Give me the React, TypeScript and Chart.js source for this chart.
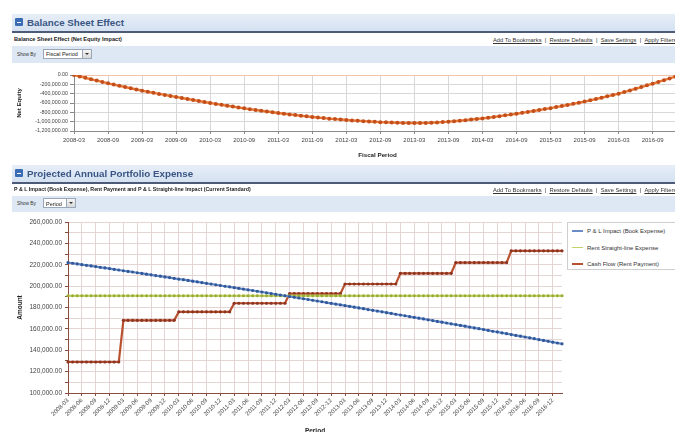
import React, { useEffect, useRef } from "react";
import { Chart, registerables } from "chart.js";

Chart.register(...registerables);

const MONTHS = [
  "2008-03", "2008-04", "2008-05", "2008-06", "2008-07", "2008-08", "2008-09", "2008-10", "2008-11", "2008-12",
  "2009-01", "2009-02", "2009-03", "2009-04", "2009-05", "2009-06", "2009-07", "2009-08", "2009-09", "2009-10", "2009-11", "2009-12",
  "2010-01", "2010-02", "2010-03", "2010-04", "2010-05", "2010-06", "2010-07", "2010-08", "2010-09", "2010-10", "2010-11", "2010-12",
  "2011-01", "2011-02", "2011-03", "2011-04", "2011-05", "2011-06", "2011-07", "2011-08", "2011-09", "2011-10", "2011-11", "2011-12",
  "2012-01", "2012-02", "2012-03", "2012-04", "2012-05", "2012-06", "2012-07", "2012-08", "2012-09", "2012-10", "2012-11", "2012-12",
  "2013-01", "2013-02", "2013-03", "2013-04", "2013-05", "2013-06", "2013-07", "2013-08", "2013-09", "2013-10", "2013-11", "2013-12",
  "2014-01", "2014-02", "2014-03", "2014-04", "2014-05", "2014-06", "2014-07", "2014-08", "2014-09", "2014-10", "2014-11", "2014-12",
  "2015-01", "2015-02", "2015-03", "2015-04", "2015-05", "2015-06", "2015-07", "2015-08", "2015-09", "2015-10", "2015-11", "2015-12",
  "2016-01", "2016-02", "2016-03", "2016-04", "2016-05", "2016-06", "2016-07", "2016-08", "2016-09", "2016-10", "2016-11", "2016-12",
  "2017-01", "2017-02",
];

const NET_EQUITY = [
  0, -31000, -61000, -91000, -120000, -149000, -178000,
  -205000, -232000, -258000, -284000, -310000, -336000,
  -359000, -382000, -405000, -427000, -449000, -470000,
  -492000, -514000, -536000, -557000, -579000, -600000,
  -620000, -639000, -658000, -677000, -696000, -715000,
  -732000, -749000, -766000, -782000, -798000, -815000,
  -830000, -844000, -858000, -872000, -886000, -900000,
  -912000, -924000, -935000, -945000, -955000, -965000,
  -973000, -981000, -989000, -996000, -1003000, -1010000,
  -1015000, -1019000, -1023000, -1026000, -1028000, -1030000,
  -1029000, -1026000, -1022000, -1016000, -1009000, -1000000,
  -990000, -979000, -967000, -955000, -943000, -930000,
  -915000, -899000, -882000, -865000, -848000, -830000,
  -811000, -791000, -771000, -751000, -731000, -710000,
  -688000, -665000, -642000, -618000, -594000, -570000,
  -543000, -515000, -487000, -458000, -429000, -400000,
  -366000, -331000, -295000, -259000, -222000, -185000,
  -148000, -111000, -74000, -37000, 0,
];

const PL_IMPACT = [
  222000, 221400, 220800, 220100, 219500, 218900, 218300, 217600, 217000, 216400,
  215700, 215100, 214400, 213800, 213200, 212500, 211900, 211200, 210600, 209900,
  209300, 208600, 208000, 207300, 206600, 206000, 205300, 204600, 204000, 203300,
  202600, 202000, 201300, 200600, 199900, 199300, 198600, 197900, 197200, 196500,
  195900, 195200, 194500, 193800, 193100, 192400, 191700, 191000, 190300, 189600,
  188900, 188200, 187500, 186800, 186100, 185400, 184600, 183900, 183200, 182500,
  181800, 181100, 180300, 179600, 178900, 178100, 177400, 176700, 176000, 175200,
  174500, 173700, 173000, 172300, 171500, 170800, 170000, 169300, 168500, 167800,
  167000, 166300, 165500, 164700, 164000, 163200, 162500, 161700, 160900, 160200,
  159400, 158600, 157800, 157100, 156300, 155500, 154700, 153900, 153200, 152400,
  151600, 150800, 150000, 149200, 148400, 147600, 146800, 146000,
];

const STRAIGHT_LINE = [
  191000, 191000, 191000, 191000, 191000, 191000, 191000, 191000, 191000, 191000, 191000, 191000,
  191000, 191000, 191000, 191000, 191000, 191000, 191000, 191000, 191000, 191000, 191000, 191000,
  191000, 191000, 191000, 191000, 191000, 191000, 191000, 191000, 191000, 191000, 191000, 191000,
  191000, 191000, 191000, 191000, 191000, 191000, 191000, 191000, 191000, 191000, 191000, 191000,
  191000, 191000, 191000, 191000, 191000, 191000, 191000, 191000, 191000, 191000, 191000, 191000,
  191000, 191000, 191000, 191000, 191000, 191000, 191000, 191000, 191000, 191000, 191000, 191000,
  191000, 191000, 191000, 191000, 191000, 191000, 191000, 191000, 191000, 191000, 191000, 191000,
  191000, 191000, 191000, 191000, 191000, 191000, 191000, 191000, 191000, 191000, 191000, 191000,
  191000, 191000, 191000, 191000, 191000, 191000, 191000, 191000, 191000, 191000, 191000, 191000,
];

const CASH_FLOW = [
  129000, 129000, 129000, 129000, 129000, 129000, 129000, 129000, 129000, 129000, 129000, 129000,
  168000, 168000, 168000, 168000, 168000, 168000, 168000, 168000, 168000, 168000, 168000, 168000,
  176000, 176000, 176000, 176000, 176000, 176000, 176000, 176000, 176000, 176000, 176000, 176000,
  184000, 184000, 184000, 184000, 184000, 184000, 184000, 184000, 184000, 184000, 184000, 184000,
  193000, 193000, 193000, 193000, 193000, 193000, 193000, 193000, 193000, 193000, 193000, 193000,
  202000, 202000, 202000, 202000, 202000, 202000, 202000, 202000, 202000, 202000, 202000, 202000,
  212000, 212000, 212000, 212000, 212000, 212000, 212000, 212000, 212000, 212000, 212000, 212000,
  222000, 222000, 222000, 222000, 222000, 222000, 222000, 222000, 222000, 222000, 222000, 222000,
  233000, 233000, 233000, 233000, 233000, 233000, 233000, 233000, 233000, 233000, 233000, 233000,
];

const SERIES_NAMES = ["P & L Impact (Book Expense)", "Rent Straight-line Expense", "Cash Flow (Rent Payment)"];

const FONT = '"Liberation Sans", Arial, sans-serif';

const fmt = (v: number) =>
  Number(v).toLocaleString("en-US", { minimumFractionDigits: 2, maximumFractionDigits: 2 });

function TopChart() {
  const ref = useRef<HTMLCanvasElement | null>(null);
  useEffect(() => {
    if (!ref.current) return;
    const chart = new Chart(ref.current, {
      type: "line",
      data: {
        labels: MONTHS,
        datasets: [
          {
            data: NET_EQUITY,
            borderColor: "#ec7a34",
            borderWidth: 2.4,
            pointRadius: 2,
            pointBackgroundColor: "#c24f1c",
            pointBorderWidth: 0,
            tension: 0,
          },
        ],
      },
      options: {
        animation: false,
        responsive: false,
        maintainAspectRatio: false,
        devicePixelRatio: 1,
        layout: { padding: { top: 12, right: 39, bottom: 4, left: 0 } },
        plugins: { legend: { display: false }, tooltip: { enabled: false } },
        scales: {
          x: {
            grid: { color: "#d8d8d8", tickColor: "#888", tickLength: 3 },
            border: { color: "#8a8a8a" },
            ticks: {
              autoSkip: false,
              maxRotation: 0,
              minRotation: 0,
              padding: 3,
              color: "#444",
              font: { size: 6, family: FONT },
              callback: (_v: any, i: number) => (i % 6 === 0 ? MONTHS[i] : null),
            },
            title: {
              display: true,
              text: "Fiscal Period",
              color: "#222",
              font: { size: 6.2, weight: "bold", family: FONT },
              padding: { top: 0, bottom: 3 },
            },
            afterFit: (s: any) => {
              s.height = 31;
            },
          },
          y: {
            min: -1200000,
            max: 0,
            ticks: {
              stepSize: 200000,
              autoSkip: false,
              color: "#444",
              padding: 2,
              font: { size: 5.3, family: FONT },
              callback: (v: any) => fmt(v),
            },
            grid: {
              color: (ctx: any) => (ctx.tick && ctx.tick.value === 0 ? "#f2c2aa" : "#d8d8d8"),
              tickColor: "#888",
              tickLength: 4,
            },
            border: { color: "#8a8a8a" },
            title: {
              display: true,
              text: "Net Equity",
              color: "#222",
              font: { size: 6, weight: "bold", family: FONT },
              padding: { top: 16, bottom: 0 },
            },
            afterFit: (s: any) => {
              s.width = 74;
            },
          },
        },
      } as any,
    });
    return () => chart.destroy();
  }, []);
  return <canvas ref={ref} width={720} height={103} style={{ display: "block" }} />;
}

function BottomChart() {
  const ref = useRef<HTMLCanvasElement | null>(null);
  useEffect(() => {
    if (!ref.current) return;
    const mk = (label: string, data: number[], line: string, pt: string) => ({
      label,
      data,
      borderColor: line,
      borderWidth: 2.2,
      pointRadius: 1.6,
      pointBackgroundColor: pt,
      pointBorderWidth: 0,
      tension: 0,
    });
    const chart = new Chart(ref.current, {
      type: "line",
      data: {
        labels: MONTHS,
        datasets: [
          mk(SERIES_NAMES[0], PL_IMPACT, "#6a8cc6", "#30589a"),
          mk(SERIES_NAMES[1], STRAIGHT_LINE, "#c4d267", "#9aae33"),
          mk(SERIES_NAMES[2], CASH_FLOW, "#b9502e", "#8c3520"),
        ],
      },
      options: {
        animation: false,
        responsive: false,
        maintainAspectRatio: false,
        devicePixelRatio: 1,
        layout: { padding: { top: 9, right: 113, bottom: 0, left: 0 } },
        plugins: { legend: { display: false }, tooltip: { enabled: false } },
        scales: {
          x: {
            grid: { color: "#e4d4d4", tickColor: "#8b4d3e", tickLength: 3 },
            border: { color: "#8b4d3e" },
            ticks: {
              autoSkip: false,
              maxRotation: 45,
              minRotation: 45,
              padding: 1,
              color: "#444",
              font: { size: 6, family: FONT },
              callback: (_v: any, i: number) => (i % 3 === 0 ? MONTHS[i] : null),
            },
            title: {
              display: true,
              text: "Period",
              color: "#222",
              font: { size: 6.5, weight: "bold", family: FONT },
              padding: { top: 0, bottom: -3 },
            },
            afterFit: (s: any) => {
              s.height = 39;
            },
          },
          y: {
            min: 100000,
            max: 260000,
            ticks: {
              stepSize: 10000,
              autoSkip: false,
              color: "#444",
              padding: 3,
              font: { size: 6.5, family: FONT },
              callback: (v: any) => (Number(v) % 20000 === 0 ? fmt(v) : ""),
            },
            grid: { color: "#e4d4d4", tickColor: "#8b4d3e", tickLength: 3 },
            border: { color: "#8b4d3e" },
            title: {
              display: true,
              text: "Amount",
              color: "#222",
              font: { size: 6.5, weight: "bold", family: FONT },
              padding: { top: 16, bottom: 0 },
            },
            afterFit: (s: any) => {
              s.width = 68;
            },
          },
        },
      } as any,
    });
    return () => chart.destroy();
  }, []);
  return <canvas ref={ref} width={675} height={219} style={{ display: "block" }} />;
}

const abs = (o: any): React.CSSProperties => ({ position: "absolute", ...o });

function Header({ top, text }: { top: number; text: string }) {
  return (
    <>
      <div
        style={abs({
          left: 12,
          top,
          width: 663,
          height: 17,
          background: "linear-gradient(#e7eef8, #d4e1f0)",
          borderBottom: "2px solid #4d5b79",
        })}
      />
      <div
        style={abs({
          left: 15,
          top: top + 4,
          width: 8,
          height: 8,
          background: "#3a6cb5",
          borderRadius: 1,
        })}
      >
        <div style={abs({ left: 2, top: 3.5, width: 4, height: 1, background: "#fff" })} />
      </div>
      <div
        style={abs({
          left: 27,
          top,
          height: 17,
          lineHeight: "17px",
          fontSize: 9.8,
          fontWeight: "bold",
          color: "#3a5685",
          whiteSpace: "nowrap",
        })}
      >
        {text}
      </div>
    </>
  );
}

function SubRow({ top, text, size }: { top: number; text: string; size: number }) {
  return (
    <>
      <div
        style={abs({
          left: 14,
          top,
          fontSize: size,
          fontWeight: "bold",
          color: "#222",
          whiteSpace: "nowrap",
        })}
      >
        {text}
      </div>
      <div
        style={abs({
          left: 493,
          top: top + 1,
          fontSize: 5.8,
          color: "#333",
          whiteSpace: "nowrap",
        })}
      >
        <span style={{ textDecoration: "underline" }}>Add To Bookmarks</span>
        {"\u00a0 | \u00a0"}
        <span style={{ textDecoration: "underline" }}>Restore Defaults</span>
        {"\u00a0 | \u00a0"}
        <span style={{ textDecoration: "underline" }}>Save Settings</span>
        {"\u00a0 | \u00a0"}
        <span style={{ textDecoration: "underline" }}>Apply Filters</span>
      </div>
    </>
  );
}

function ShowBy({ top, height, value, selWidth }: { top: number; height: number; value: string; selWidth: number }) {
  return (
    <>
      <div style={abs({ left: 12, top, width: 663, height, background: "#dde8f4" })} />
      <div style={abs({ left: 17, top: top + height / 2 - 3, fontSize: 4.8, color: "#333", whiteSpace: "nowrap" })}>
        Show By
      </div>
      <div
        style={abs({
          left: 43,
          top: top + height / 2 - 6,
          width: selWidth,
          height: 10,
          background: "#fff",
          border: "1px solid #9aa7b8",
          boxSizing: "border-box",
        })}
      >
        <div style={abs({ left: 2, top: 1.5, fontSize: 5.5, color: "#222", whiteSpace: "nowrap" })}>{value}</div>
        <div
          style={abs({
            right: 0,
            top: 0,
            width: 8,
            height: 8,
            background: "linear-gradient(#f4f4f4,#d8d8d8)",
            borderLeft: "1px solid #9aa7b8",
          })}
        >
          <div
            style={abs({
              left: 2,
              top: 3,
              width: 0,
              height: 0,
              borderLeft: "2px solid transparent",
              borderRight: "2px solid transparent",
              borderTop: "2.5px solid #333",
            })}
          />
        </div>
      </div>
    </>
  );
}

function Legend() {
  const cols = ["#6a8cc6", "#c4d267", "#b9502e"];
  return (
    <div
      style={abs({
        left: 567,
        top: 222,
        width: 130,
        height: 48,
        border: "1px solid #cfcfcf",
        background: "#fff",
        boxSizing: "border-box",
      })}
    >
      {SERIES_NAMES.map((n, i) => (
        <div key={n} style={abs({ left: 4, top: 4 + i * 16.5, height: 8, whiteSpace: "nowrap" })}>
          <div style={abs({ left: 0, top: 3, width: 11, height: 1.5, background: cols[i] })} />
          <div style={abs({ left: 15, top: 0, fontSize: 6, color: "#333", lineHeight: "8px" })}>{n}</div>
        </div>
      ))}
    </div>
  );
}

export default function App() {
  return (
    <div
      style={{
        position: "absolute",
        left: 0,
        top: 0,
        width: 675,
        height: 432,
        overflow: "hidden",
        background: "#fff",
        fontFamily: FONT,
      }}
    >
      <Header top={14} text="Balance Sheet Effect" />
      <SubRow top={36} size={5.6} text="Balance Sheet Effect (Net Equity Impact)" />
      <ShowBy top={46} height={17} value="Fiscal Period" selWidth={49} />
      <div style={abs({ left: 0, top: 63, width: 720, height: 103 })}>
        <TopChart />
      </div>
      <Header top={165} text="Projected Annual Portfolio Expense" />
      <SubRow top={186} size={5.3} text="P & L Impact (Book Expense), Rent Payment and P & L Straight-line Impact (Current Standard)" />
      <ShowBy top={196} height={16} value="Period" selWidth={33} />
      <div style={abs({ left: 0, top: 213, width: 675, height: 219 })}>
        <BottomChart />
      </div>
      <Legend />
    </div>
  );
}
